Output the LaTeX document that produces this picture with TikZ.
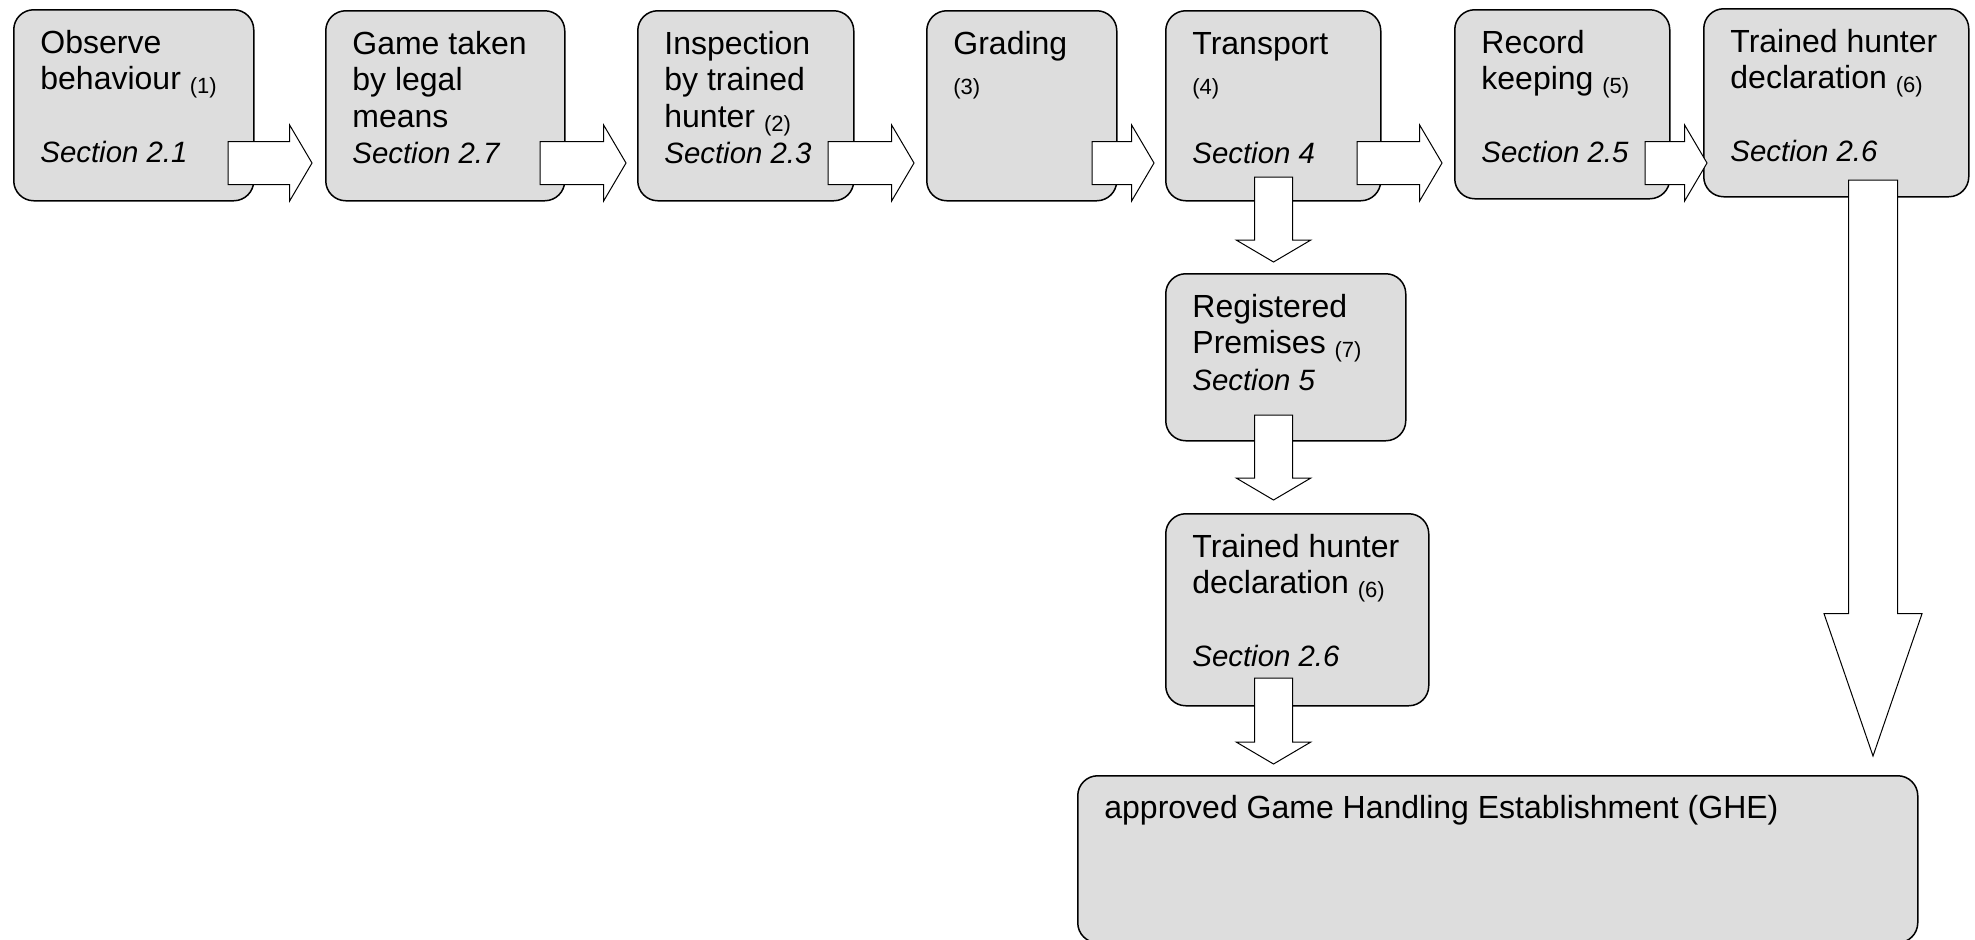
\documentclass[tikz,border=0pt]{standalone}
\usepackage{fontspec}
\setmainfont{Liberation Sans}
\usetikzlibrary{shapes.arrows}
\definecolor{boxgray}{RGB}{221,221,221}
\newcommand{\stepno}[1]{\raisebox{-2pt}{\fontsize{11}{12}\selectfont(#1)}}
\newcommand{\sect}[1]{{\fontsize{14.7}{18.2}\selectfont\itshape Section #1}}
\newcommand{\topln}{\rule{0pt}{14pt}}

\begin{document}
\begin{tikzpicture}[
  x=0.5pt,y=-0.5pt,
  box/.style={draw,line width=0.75pt,fill=boxgray,rounded corners=10pt,
              anchor=north west,inner sep=0pt},
  txt/.style={anchor=north west,inner sep=0pt,align=left,
              font=\fontsize{16}{18.2}\selectfont},
  rarr/.style={single arrow,draw,fill=white,line width=0.5pt,
               inner xsep=0pt,inner ysep=10.5pt,
               single arrow head extend=8.25pt,
               single arrow tip angle=119,single arrow head indent=0pt,
               outer sep=0pt,anchor=tail},
  darr/.style={rarr,rotate=-90,inner ysep=9.25pt,
               single arrow head extend=9pt},
  bigarr/.style={rarr,rotate=-90,inner ysep=12pt,
                 single arrow head extend=12.25pt,single arrow tip angle=38}
]
\clip (0,0) rectangle (1975,939);
\useasboundingbox (0,0) rectangle (1975,939);
% --- top row ---
\node[box,minimum width=120pt,minimum height=95.5pt](obs)  at(13,9){};
\node[box,minimum width=119.5pt,minimum height=95pt](game) at(325,10){};
\node[box,minimum width=108pt,minimum height=95pt](insp)   at(637,10){};
\node[box,minimum width=95pt,minimum height=95pt](grad)    at(926,10){};
\node[box,minimum width=107.5pt,minimum height=95pt](trans) at(1165,10){};
\node[box,minimum width=107.5pt,minimum height=94.5pt](rec) at(1454,9){};
\node[box,minimum width=132.5pt,minimum height=94pt](decl)  at(1703,8){};
% --- column below transport ---
\node[box,minimum width=120pt,minimum height=83.5pt](prem)  at(1165,273){};
\node[box,minimum width=131.5pt,minimum height=96pt](hunt)  at(1165,513){};
% --- GHE ---
\node[box,minimum width=420pt,minimum height=83.5pt](ghe)   at(1077,775){};
% texts
\node[txt](obst) at([xshift=13.5pt,yshift=-8pt]obs.north west)
  {\topln Observe\\behaviour \stepno{1}\\[18.2pt]\sect{2.1}};
\node[txt](gamet) at([xshift=13.5pt,yshift=-8pt]game.north west)
  {\topln Game taken\\by legal\\means\\\sect{2.7}};
\node[txt](inspt) at([xshift=13.5pt,yshift=-8pt]insp.north west)
  {\topln Inspection\\by trained\\hunter \stepno{2}\\\sect{2.3}};
\node[txt](gradt) at([xshift=13.5pt,yshift=-8pt]grad.north west)
  {\topln Grading\\\stepno{3}};
\node[txt](transt) at([xshift=13.5pt,yshift=-8pt]trans.north west)
  {\topln Transport\\\stepno{4}\\[18.2pt]\sect{4}};
\node[txt](rect) at([xshift=13.5pt,yshift=-8pt]rec.north west)
  {\topln Record\\keeping \stepno{5}\\[18.2pt]\sect{2.5}};
\node[txt](declt) at([xshift=13.5pt,yshift=-8pt]decl.north west)
  {\topln Trained hunter\\declaration \stepno{6}\\[18.2pt]\sect{2.6}};
\node[txt](premt) at([xshift=13.5pt,yshift=-8pt]prem.north west)
  {\topln Registered\\Premises \stepno{7}\\\sect{5}};
\node[txt](huntt) at([xshift=13.5pt,yshift=-8pt]hunt.north west)
  {\topln Trained hunter\\declaration \stepno{6}\\[18.2pt]\sect{2.6}};
\node[txt](ghet) at([xshift=13.5pt,yshift=-7.5pt]ghe.north west)
  {\topln approved Game Handling Establishment (GHE)};
% --- block arrows along the top row ---
\foreach \n/\x/\l in {a1/228/42,a2/540/43,a3/828/43,a4/1092/31,a5/1357/42.5,a6/1645/31}
  \node[rarr,minimum height=\l pt](\n) at(\x,163){};
% --- block arrows down ---
\foreach \n/\y/\l in {d1/177/42.5,d2/415/42.5,d3/678/43}
  \node[darr,minimum height=\l pt](\n) at(1273.5,\y){};
\node[bigarr,minimum height=288pt](big) at(1873,180){};
\end{tikzpicture}
\end{document}
